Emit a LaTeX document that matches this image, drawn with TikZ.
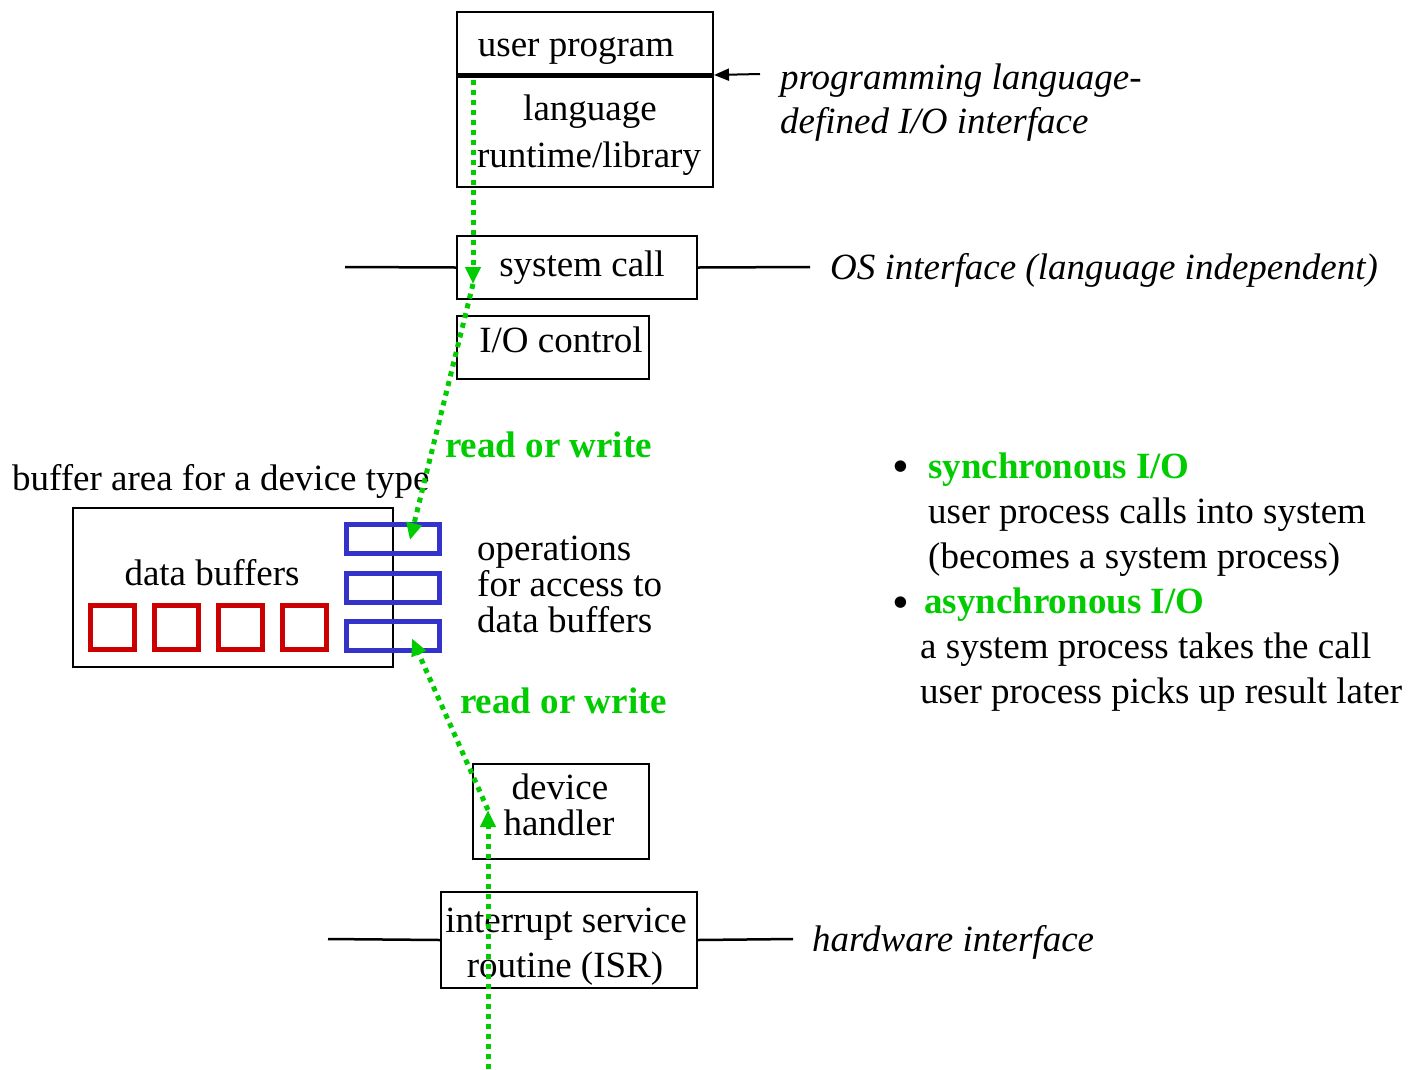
\documentclass[tikz,border=0pt]{standalone}
\usepackage{fontspec}
\setmainfont{Liberation Serif}
\usepackage{tikz}
\usetikzlibrary{arrows.meta, positioning, calc}
\usepackage{xcolor}
\definecolor{ioGreen}{RGB}{0,204,0}
\definecolor{ioRed}{RGB}{204,0,0}
\definecolor{ioBlue}{RGB}{51,51,204}

\tikzset{
  layerbox/.style={draw, line width=2pt, inner sep=0pt},
  opbox/.style={draw=ioBlue, line width=5pt, minimum width=93pt, minimum height=29pt, inner sep=0pt},
  databox/.style={draw=ioRed, line width=5pt, minimum width=44pt, minimum height=44pt, inner sep=0pt},
  plain/.style={inner sep=0pt, align=left},
  boxtext/.style={inner sep=0pt, anchor=base},
  ifline/.style={line width=2.5pt},
  flow/.style={draw=ioGreen, line width=5pt, dash pattern=on 5pt off 5pt,
    -{Triangle[length=17pt,width=15pt]}, color=ioGreen},
  rw/.style={inner sep=0pt, anchor=west, text=ioGreen, font=\fontsize{37}{45}\selectfont\bfseries}
}

\begin{document}
\begin{tikzpicture}[x=1pt, y=-1pt, font=\fontsize{37}{45}\selectfont]
\useasboundingbox (0,0) rectangle (1411,1069);

% user level
\node[layerbox, minimum width=256pt, minimum height=62pt] (user) at (585,43) {};
\node[layerbox, minimum width=256pt, minimum height=113pt] (lib) at (585,130.5) {};
\node[boxtext] (userT) at (576,56) {user program};
\node[boxtext] (libT1) at (590,120) {language};
\node[boxtext] (libT2) at (589,167) {runtime/library};
\draw[line width=5pt] (user.south west) -- (user.south east);
\coordinate (pliTail) at (760,74);
\draw[line width=2pt, -{Triangle[length=15pt,width=12pt]}] (pliTail) -- (user.south east);
\node[plain, anchor=west, font=\fontsize{37}{44}\selectfont\itshape] (pli) at (780,103) {programming language-\\defined I/O interface};

% OS interface
\node[layerbox, minimum width=240pt, minimum height=63pt] (sc) at (577,267.5) {};
\node[boxtext] (scT) at (582,276) {system call};
\coordinate (scLeft) at (345,267);
\coordinate (scRight) at (810,267);
\draw[ifline] (scLeft) -- (sc.west);
\draw[ifline] (sc.east) -- (scRight);
\node[plain, anchor=west, font=\fontsize{37}{45}\selectfont\itshape] (osif) at (830,270) {OS interface (language independent)};
\node[layerbox, minimum width=192pt, minimum height=63pt] (ioc) at (553,347.5) {};
\node[boxtext] (iocT) at (561,352) {I/O control};

% buffer area
\node[plain, anchor=west] (bufname) at (12,481) {buffer area for a device type};
\node[layerbox, minimum width=320pt, minimum height=159pt] (buf) at (233,587.5) {};
\node[plain] (dbuf) at (212,573) {data buffers};
\foreach \i in {0,...,3} {
    \node[databox] (db\i) at (112.5+\i*64,627.5) {};
}
\node[opbox] (op1) at (393,539) {};
\node[opbox] (op2) at (393,587.5) {};
\node[opbox] (op3) at (393,635.5) {};
\node[plain, anchor=west, font=\fontsize{37}{36}\selectfont] (opname) at (477,584) {operations\\for access to\\data buffers};

% hardware side
\node[layerbox, minimum width=176pt, minimum height=95pt] (dh) at (561,811.5) {};
\node[boxtext] (dhT1) at (560,799) {device};
\node[boxtext] (dhT2) at (559,835) {handler};
\node[layerbox, minimum width=256pt, minimum height=96pt] (isr) at (569,940) {};
\node[boxtext] (isrT1) at (566,932) {interrupt service};
\node[boxtext] (isrT2) at (565,977) {routine (ISR)};
\coordinate (isrLeft) at (328,939);
\coordinate (isrRight) at (793,939);
\draw[ifline] (isrLeft) -- (isr.west);
\draw[ifline] (isr.east) -- (isrRight);
\node[plain, anchor=west, font=\fontsize{37}{45}\selectfont\itshape] (hwif) at (812,942) {hardware interface};

% read / write paths
\coordinate (gTop) at (473,80);
\coordinate (scTip) at (473,284);
\coordinate (gBottom) at (488,1069);
\coordinate (dhTip) at (488,810);
\draw[flow] (gTop) -- (scTip);
\draw[flow] (scTip) -- ([xshift=17pt,yshift=-1pt]op1.center);
\draw[flow] (gBottom) -- (dhTip);
\draw[flow] (dhTip) -- ([xshift=19pt,yshift=-3pt]op3.center);
\node[rw] (rw1) at (445,445) {read or write};
\node[rw] (rw2) at (460,701) {read or write};

% synchronous vs asynchronous
\node[plain, font=\fontsize{48}{48}\selectfont] (b1) at (901,472) {•};
\node[plain, anchor=north west] (sync) at (928,453) {{\color{ioGreen}\bfseries synchronous I/O}\\user process calls into system\\(becomes a system process)};
\node[plain, font=\fontsize{48}{48}\selectfont] (b2) at (901,608) {•};
\node[plain, anchor=north west] (async) at (920,588) {\hspace*{4pt}{\color{ioGreen}\bfseries asynchronous I/O}\\a system process takes the call\\user process picks up result later};
\end{tikzpicture}
\end{document}
